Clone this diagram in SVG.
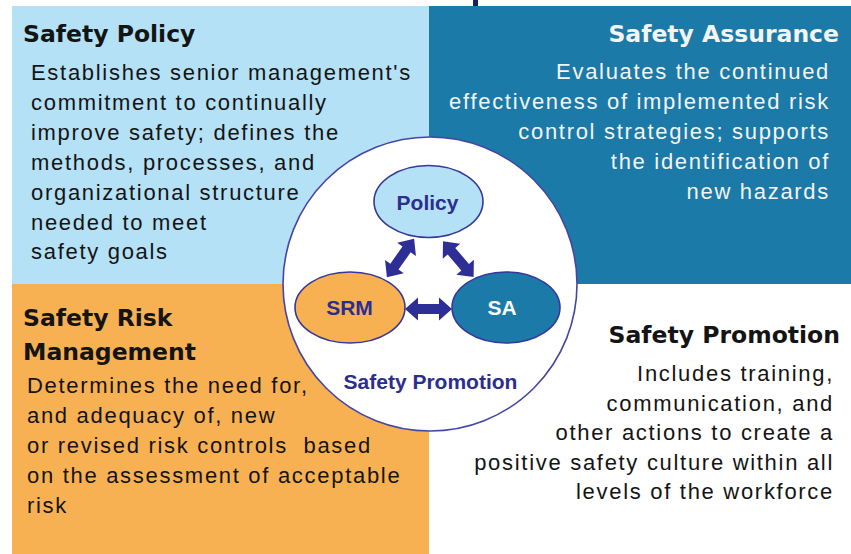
<svg xmlns="http://www.w3.org/2000/svg" width="851" height="554" viewBox="0 0 851 554">
  <style>
    .title { font-family: "DejaVu Sans", "Liberation Sans", sans-serif; font-weight: bold; font-size: 23.5px; }
    .body { font-family: "Liberation Sans", Arial, sans-serif; font-size: 22px; letter-spacing: 1.7px; }
    .dark { fill: #141414; }
    .light { fill: #f4f4f4; }
    .lbl { font-family: "Liberation Sans", Arial, sans-serif; font-weight: bold; font-size: 21px; text-anchor: middle; }
    .navy { fill: #2c2e8e; }
    .ell { stroke: #35379a; stroke-width: 1.6; }
    .end { text-anchor: end; }
  </style>
  <defs>
    <path id="dbl" d="M -23.5 0 L -10.5 -11.5 L -10.5 -5 L 10.5 -5 L 10.5 -11.5 L 23.5 0 L 10.5 11.5 L 10.5 5 L -10.5 5 L -10.5 11.5 Z" fill="#2d2f96"/>
  </defs>
  <rect x="0" y="0" width="851" height="554" fill="#ffffff"/>
  <rect x="473" y="0" width="5" height="6" fill="#1e1f5c"/>

  <g id="safety-policy">
    <rect x="12" y="6" width="417" height="278" fill="#b4e1f6"/>
    <text class="title dark" x="23" y="42">Safety Policy</text>
    <text class="body dark" x="31" y="79.5">Establishes senior management's</text>
    <text class="body dark" x="31" y="109.5">commitment to continually</text>
    <text class="body dark" x="31" y="139.5">improve safety; defines the</text>
    <text class="body dark" x="31" y="169.5">methods, processes, and</text>
    <text class="body dark" x="31" y="199.5">organizational structure</text>
    <text class="body dark" x="31" y="229.5">needed to meet</text>
    <text class="body dark" x="31" y="259">safety goals</text>
  </g>

  <g id="safety-assurance">
    <rect x="429" y="6" width="422" height="278" fill="#1b7aa7"/>
    <text class="title light end" x="839" y="42">Safety Assurance</text>
    <text class="body light end" x="830" y="78.5">Evaluates the continued</text>
    <text class="body light end" x="830" y="108.5">effectiveness of implemented risk</text>
    <text class="body light end" x="830" y="138.5">control strategies; supports</text>
    <text class="body light end" x="830" y="168.5">the identification of</text>
    <text class="body light end" x="830" y="198.5">new hazards</text>
  </g>

  <g id="safety-risk-management">
    <rect x="12" y="284" width="417" height="270" fill="#f8b152"/>
    <text class="title dark" x="23" y="326">Safety Risk</text>
    <text class="title dark" x="23" y="359.5">Management</text>
    <text class="body dark" x="27" y="393">Determines the need for,</text>
    <text class="body dark" x="27" y="423">and adequacy of, new</text>
    <text class="body dark" x="27" y="453">or revised risk controls&#160; based</text>
    <text class="body dark" x="27" y="483">on the assessment of acceptable</text>
    <text class="body dark" x="27" y="513">risk</text>
  </g>

  <g id="safety-promotion">
    <text class="title dark end" x="840" y="343">Safety Promotion</text>
    <text class="body dark end" x="834" y="381">Includes training,</text>
    <text class="body dark end" x="834" y="410.5">communication, and</text>
    <text class="body dark end" x="834" y="440">other actions to create a</text>
    <text class="body dark end" x="834" y="469.5">positive safety culture within all</text>
    <text class="body dark end" x="834" y="499">levels of the workforce</text>
  </g>

  <g id="sms-circle">
    <circle cx="430" cy="284" r="147" fill="#ffffff" stroke="#4446a4" stroke-width="1.6"/>
    <text class="lbl navy" x="430.5" y="389">Safety Promotion</text>
  </g>

  <g id="policy-node">
    <ellipse class="ell" cx="428.5" cy="201.5" rx="54.5" ry="36" fill="#b4e1f6"/>
    <text class="lbl navy" x="427.5" y="210">Policy</text>
  </g>

  <g id="srm-node">
    <ellipse class="ell" cx="350" cy="307.5" rx="55" ry="35.5" fill="#f8b152"/>
    <text class="lbl navy" x="349.5" y="315">SRM</text>
  </g>

  <g id="sa-node">
    <ellipse class="ell" cx="506" cy="307.5" rx="54" ry="35.5" fill="#1b7aa7"/>
    <text class="lbl" x="502" y="315" fill="#ffffff">SA</text>
  </g>

  <g id="connectors">
    <use href="#dbl" transform="translate(400.5 258) rotate(125.4)"/>
    <use href="#dbl" transform="translate(458.3 259.2) rotate(49.4)"/>
    <use href="#dbl" transform="translate(428.5 309)"/>
  </g>
</svg>
